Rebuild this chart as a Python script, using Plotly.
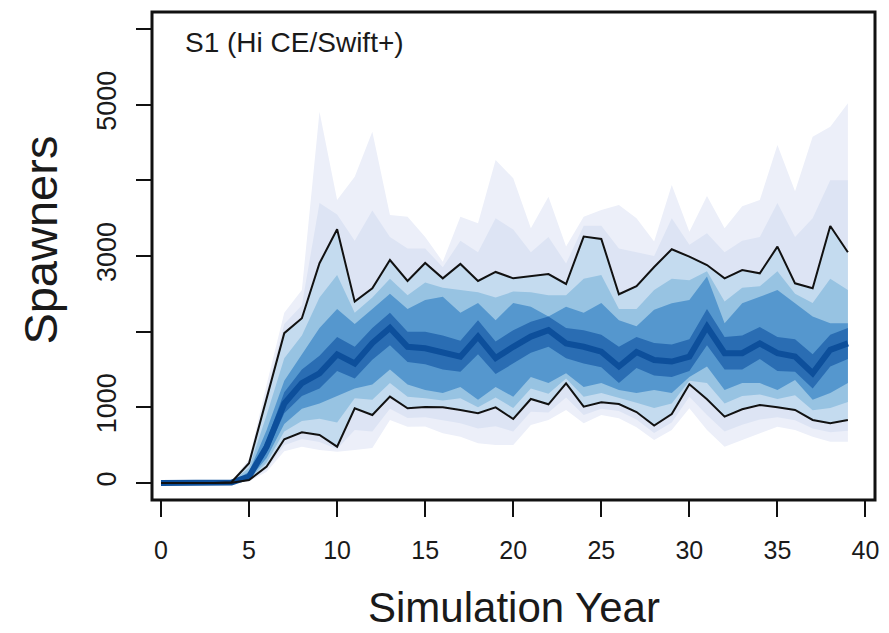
import plotly.graph_objects as go

years = list(range(40))

outer_lo = [0,0,0,0,0,20,150,420,480,436,414,436,462,833,744,745,656,612,524,502,502,767,833,965,789,899,855,735,568,700,987,700,480,568,656,744,700,612,546,546]
q05 = [0,0,0,0,1,30,180,500,580,540,450,700,680,980,860,870,830,790,720,750,680,940,930,1130,900,980,950,840,660,800,1140,900,680,770,840,870,830,720,670,690]
q10 = [0,0,0,0,2,40,216,577,670,634,480,987,899,1141,987,1005,1000,965,921,1000,846,1110,1040,1317,1009,1066,1044,938,758,912,1304,1106,877,974,1031,1000,965,833,789,833]
q175 = [0,0,0,0,2,45,270,680,820,850,800,1120,1100,1320,1140,1120,1090,1120,1000,1130,990,1250,1180,1380,1140,1190,1130,1060,990,1050,1350,1320,1050,1150,1170,1110,1160,960,990,1070]
q25 = [0,0,0,0,3,50,330,780,980,1050,1150,1250,1300,1500,1300,1230,1190,1270,1100,1270,1140,1400,1320,1450,1270,1320,1230,1190,1230,1190,1400,1540,1230,1320,1320,1230,1360,1100,1190,1320]
q40 = [0,0,0,0,4,70,400,920,1150,1250,1480,1380,1630,1820,1600,1570,1500,1470,1700,1440,1580,1720,1800,1650,1580,1530,1320,1520,1420,1400,1480,1820,1500,1500,1640,1480,1470,1250,1540,1640]
median = [0,0,0,0,5,85,480,1050,1320,1450,1700,1580,1850,2050,1800,1780,1715,1670,1935,1650,1800,1935,2020,1845,1800,1735,1540,1730,1625,1605,1670,2065,1715,1715,1845,1715,1670,1450,1760,1845]
q60 = [0,0,0,0,6,100,560,1200,1500,1680,1930,1800,2050,2250,2000,2000,1950,1880,2150,1870,2020,2130,2200,2050,2020,1960,1800,1930,1850,1830,1900,2300,1930,1950,2060,1930,1900,1700,1960,2050]
q75 = [0,0,0,0,8,150,700,1350,1700,2050,2300,2100,2300,2500,2300,2420,2460,2250,2380,2150,2380,2330,2200,2330,2250,2380,2150,2070,2290,2375,2420,2730,2110,2375,2460,2550,2375,2200,2110,2110]
q825 = [0,0,0,0,9,200,900,1650,1950,2450,2750,2250,2450,2700,2480,2650,2580,2550,2520,2450,2530,2520,2480,2480,2700,2750,2300,2300,2550,2700,2680,2800,2400,2580,2600,2800,2500,2380,2700,2550]
q90 = [0,0,0,0,10,262,1120,1980,2177,2904,3353,2397,2573,2947,2670,2908,2705,2895,2670,2789,2705,2730,2762,2630,3256,3225,2494,2600,2855,3089,2991,2881,2705,2815,2771,3124,2639,2573,3397,3049]
q95 = [0,0,0,0,12,290,1200,2100,2350,3700,3550,3200,3600,3250,3100,3100,2850,3200,3050,3500,3350,3050,3250,2900,3400,3400,3100,3050,3000,3500,3150,3300,3050,3200,3250,3700,3250,3500,4000,4000]
outer_hi = [0,0,0,0,15,320,1300,2250,2550,4908,3740,4049,4643,3542,3520,3250,2925,3520,3432,4269,4027,3366,3784,3124,3520,3608,3674,3500,3190,3939,3322,3793,3366,3656,3740,4467,3855,4577,4709,5019]

x_ticks = [0, 5, 10, 15, 20, 25, 30, 35, 40]
y_ticks = [0, 1000, 2000, 3000, 4000, 5000, 6000]
y_ticktext = ["0", "1000", "", "3000", "", "5000", ""]

bands = [
    (outer_lo, outer_hi, "#eceff9"),
    (q05, q95, "#dde4f4"),
    (q10, q90, "#c4dbef"),
    (q175, q825, "#97c3e2"),
    (q25, q75, "#5597ce"),
    (q40, q60, "#2a6db3"),
]

fig = go.Figure()
for lo, hi, col in bands:
    fig.add_trace(go.Scatter(x=years, y=lo, mode="lines", line=dict(width=0, color=col),
                             showlegend=False, hoverinfo="skip"))
    fig.add_trace(go.Scatter(x=years, y=hi, mode="lines", line=dict(width=0, color=col),
                             fill="tonexty", fillcolor=col, showlegend=False, hoverinfo="skip"))

fig.add_trace(go.Scatter(x=years, y=median, mode="lines",
                         line=dict(width=6, color="#0d4f9b"), showlegend=False))
for q in (q10, q90):
    fig.add_trace(go.Scatter(x=years, y=q, mode="lines",
                             line=dict(width=2, color="#111111"), showlegend=False))

font = "Liberation Sans, Arial, sans-serif"

fig.update_layout(
    width=889, height=633,
    margin=dict(l=152, r=10, t=12, b=133),
    paper_bgcolor="white", plot_bgcolor="white",
    xaxis=dict(range=[-0.51, 40.54], tickvals=x_ticks, ticks="outside", ticklen=16,
               tickwidth=2, tickcolor="#111", showgrid=False, zeroline=False, showline=False,
               tickfont=dict(family=font, size=25, color="#1a1a1a"), ticklabelstandoff=12),
    yaxis=dict(range=[-225, 6225], tickvals=y_ticks, ticktext=y_ticktext, ticks="outside",
               ticklen=15, tickwidth=2, tickcolor="#111", showgrid=False, zeroline=False,
               showline=False, tickangle=-90,
               tickfont=dict(family=font, size=27, color="#1a1a1a"), ticklabelstandoff=9),
    shapes=[dict(type="rect", xref="paper", yref="paper", x0=0, x1=1, y0=0, y1=1,
                 line=dict(color="#111", width=3))],
    annotations=[
        dict(text="S1 (Hi CE/Swift+)", xref="paper", yref="paper", x=(183 - 152) / 727,
             y=(500 - 42) / 488, xanchor="left", yanchor="middle", showarrow=False,
             font=dict(family=font, size=28, color="#1a1a1a")),
        dict(text="Simulation Year", xref="paper", yref="paper", x=(516 - 152) / 727,
             y=(500 - 607) / 488, xanchor="center", yanchor="middle", showarrow=False,
             font=dict(family=font, size=42, color="#1a1a1a")),
        dict(text="Spawners", xref="paper", yref="paper", x=(40 - 152) / 727,
             y=(500 - 240) / 488, xanchor="center", yanchor="middle", showarrow=False,
             textangle=-90, font=dict(family=font, size=47, color="#1a1a1a")),
    ],
)

fig.write_html("out.html")
